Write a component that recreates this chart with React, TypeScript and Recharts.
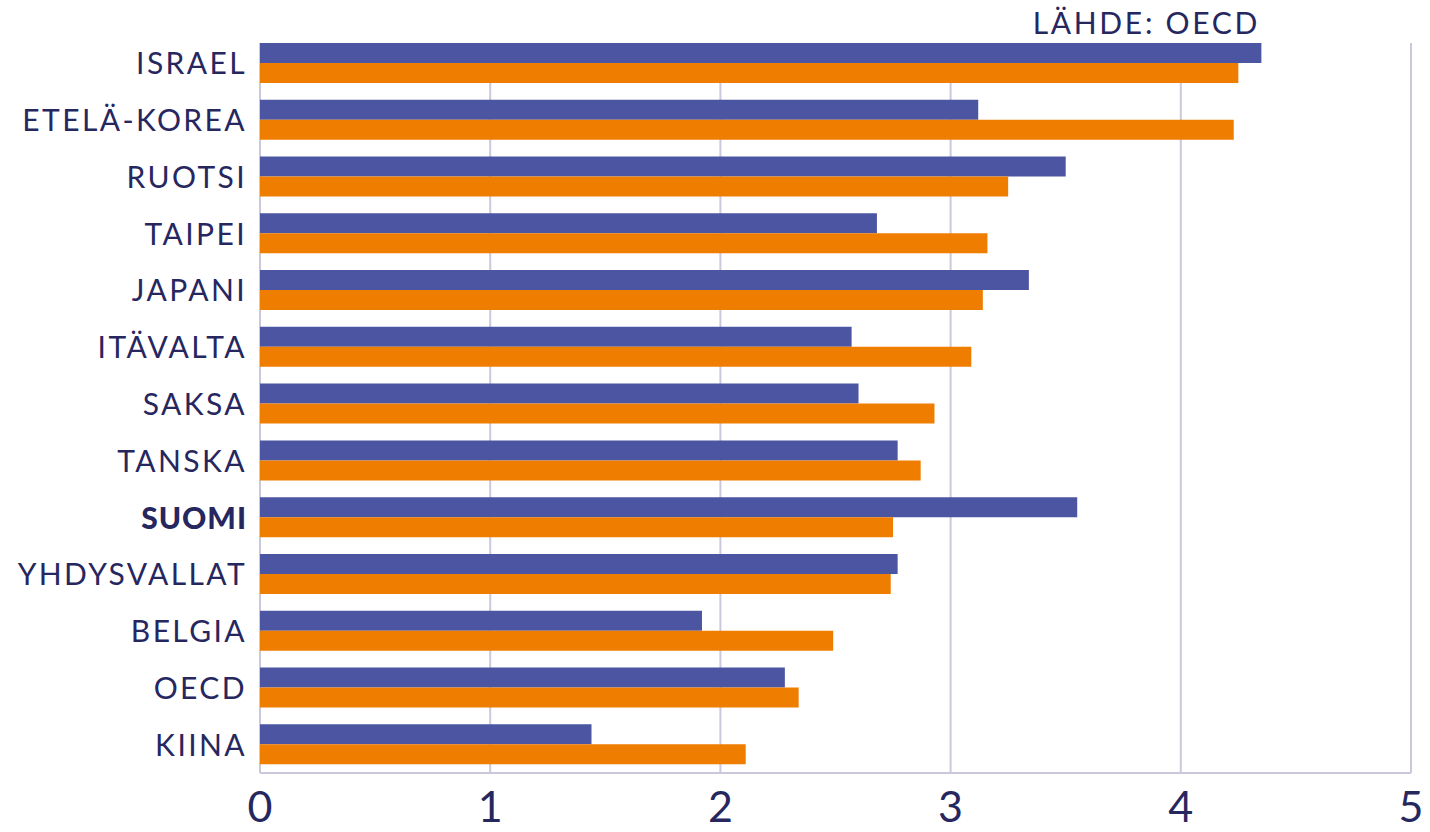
import React from "react";
import { BarChart, Bar, XAxis, YAxis, CartesianGrid } from "recharts";

const countries = [
  "ISRAEL",
  "ETELÄ-KOREA",
  "RUOTSI",
  "TAIPEI",
  "JAPANI",
  "ITÄVALTA",
  "SAKSA",
  "TANSKA",
  "SUOMI",
  "YHDYSVALLAT",
  "BELGIA",
  "OECD",
  "KIINA",
];
const purpleValues = [4.35, 3.12, 3.5, 2.68, 3.34, 2.57, 2.6, 2.77, 3.55, 2.77, 1.92, 2.28, 1.44];
const orangeValues = [4.25, 4.23, 3.25, 3.16, 3.14, 3.09, 2.93, 2.87, 2.75, 2.74, 2.49, 2.34, 2.11];
const xTicks = [0, 1, 2, 3, 4, 5];

const data = countries.map((name, i) => ({
  name,
  a: purpleValues[i],
  b: orangeValues[i],
}));

const TEXT = "#27275f";
const GRID = "#c9c9db";
const FONT = "Lato, 'Noto Sans', sans-serif";

const CountryTick = (props: any) => {
  const { x, y, payload } = props;
  const bold = payload.value === "SUOMI";
  return (
    <text
      x={x}
      y={y}
      dy={11}
      textAnchor="end"
      fill={TEXT}
      fontFamily={FONT}
      fontSize={30}
      fontWeight={bold ? 900 : 400}
      letterSpacing={bold ? 1 : 2.4}
    >
      {payload.value}
    </text>
  );
};

export default function App() {
  return (
    <div style={{ position: "absolute", left: 0, top: 0, width: 1430, height: 832, background: "#fff" }}>
      <div
        style={{
          position: "absolute",
          right: 170,
          top: 4,
          fontFamily: FONT,
          fontSize: 30,
          color: TEXT,
          letterSpacing: 2.7,
        }}
      >
        LÄHDE: OECD
      </div>
      <BarChart
        width={1430}
        height={832}
        data={data}
        layout="vertical"
        margin={{ top: 35, right: 19, bottom: 0, left: 0 }}
        barCategoryGap={8}
        barGap={0}
      >
        <CartesianGrid horizontal={false} stroke={GRID} strokeWidth={2} y={43} height={730} />
        <XAxis
          type="number"
          domain={[0, 5]}
          ticks={xTicks}
          height={59}
          axisLine={{ stroke: GRID, strokeWidth: 2 }}
          tickLine={false}
          tick={{ fill: TEXT, fontSize: 43, fontFamily: FONT }}
          tickMargin={12}
        />
        <YAxis
          type="category"
          dataKey="name"
          width={260}
          axisLine={false}
          tickLine={false}
          tick={<CountryTick />}
          tickMargin={7}
          interval={0}
        />
        <Bar dataKey="a" fill="#4b55a2" isAnimationActive={false} />
        <Bar dataKey="b" fill="#ef7d00" isAnimationActive={false} />
      </BarChart>
    </div>
  );
}
